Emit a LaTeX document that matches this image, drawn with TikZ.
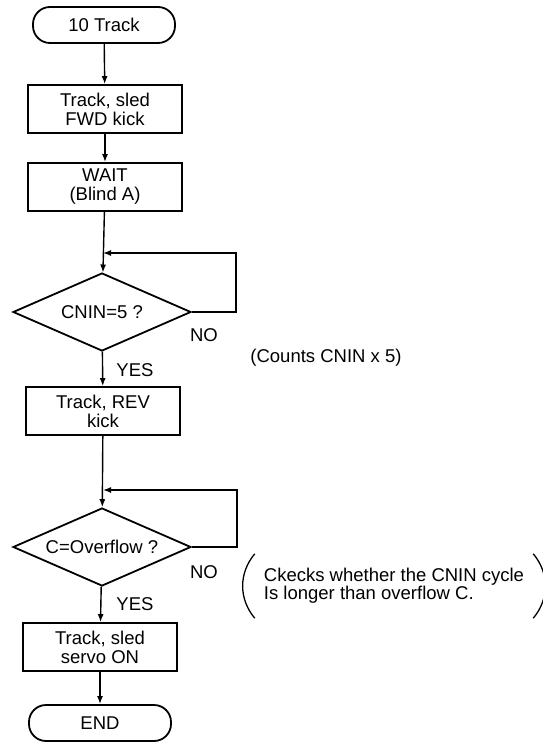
\documentclass[tikz,border=0pt]{standalone}
\usepackage{fontspec}
\setmainfont{Liberation Sans}
\usetikzlibrary{shapes.geometric,arrows.meta}

\begin{document}
\begin{tikzpicture}[x=1pt,y=-1pt,
  txt/.style={font=\fontsize{18.5}{19}\selectfont,align=center},
  term/.style={txt,draw,line width=1.8pt,rounded corners=17pt,minimum width=142,minimum height=36},
  proc/.style={txt,draw,line width=1.8pt,minimum width=154,minimum height=48,inner sep=1pt},
  test/.style={txt,draw,line width=1.8pt,diamond,aspect=2.3,minimum width=178,minimum height=78,inner sep=0pt},
  flow/.style={line width=1.4pt,-{Latex[length=8pt,width=6pt]}}]
\path[use as bounding box] (0,0) rectangle (543,752);

% main column
\node[term] (start) at (104,25) {10 Track};
\node[proc] (kick) at (105,109) {Track, sled\\FWD kick};
\node[proc] (wait) at (105,187) {WAIT\\(Blind A)};
\node[test] (cnin) at (102,312) {CNIN=5 ?};
\node[proc] (rev) at (103,411) {Track, REV\\kick};
\node[test] (ovf) at (102,547) {C=Overflow ?};
\node[proc] (servo) at (100,647) {Track, sled\\servo ON};
\node[term] (stop) at (100,723) {END};

\draw[flow] (start) -- (kick);
\draw[flow] (kick) -- (wait);
\draw[flow] (wait) -- (cnin);
\draw[flow] (cnin) -- (rev);
\draw[flow] (rev) -- (ovf);
\draw[flow] (ovf) -- (servo);
\draw[flow] (servo) -- (stop);

% NO loops
\coordinate (cninR) at (236,253);
\coordinate (cninJ) at (103,253);
\draw[flow] (cnin.east) -| (cninR) -- (cninJ);
\coordinate (ovfR) at (237,490);
\coordinate (ovfJ) at (103,490);
\draw[flow] (ovf.east) -| (ovfR) -- (ovfJ);

% labels
\node[txt] (no1) at (204,335) {NO};
\node[txt] (yes1) at (135,370) {YES};
\node[txt] (no2) at (204,572) {NO};
\node[txt] (yes2) at (135,604) {YES};

% comments
\node[txt] (note1) at (326,358) {(Counts CNIN x 5)};
\node[txt,align=left,font=\fontsize{18.5}{16}\selectfont,minimum height=64,inner xsep=9pt] (note2) at (394,586)
  {Ckecks whether the CNIN cycle\\Is longer than overflow C.};
\draw[line width=1.3pt] (note2.north west) to[bend right=40] (note2.south west);
\draw[line width=1.3pt] (note2.north east) to[bend left=40] (note2.south east);
\end{tikzpicture}
\end{document}
